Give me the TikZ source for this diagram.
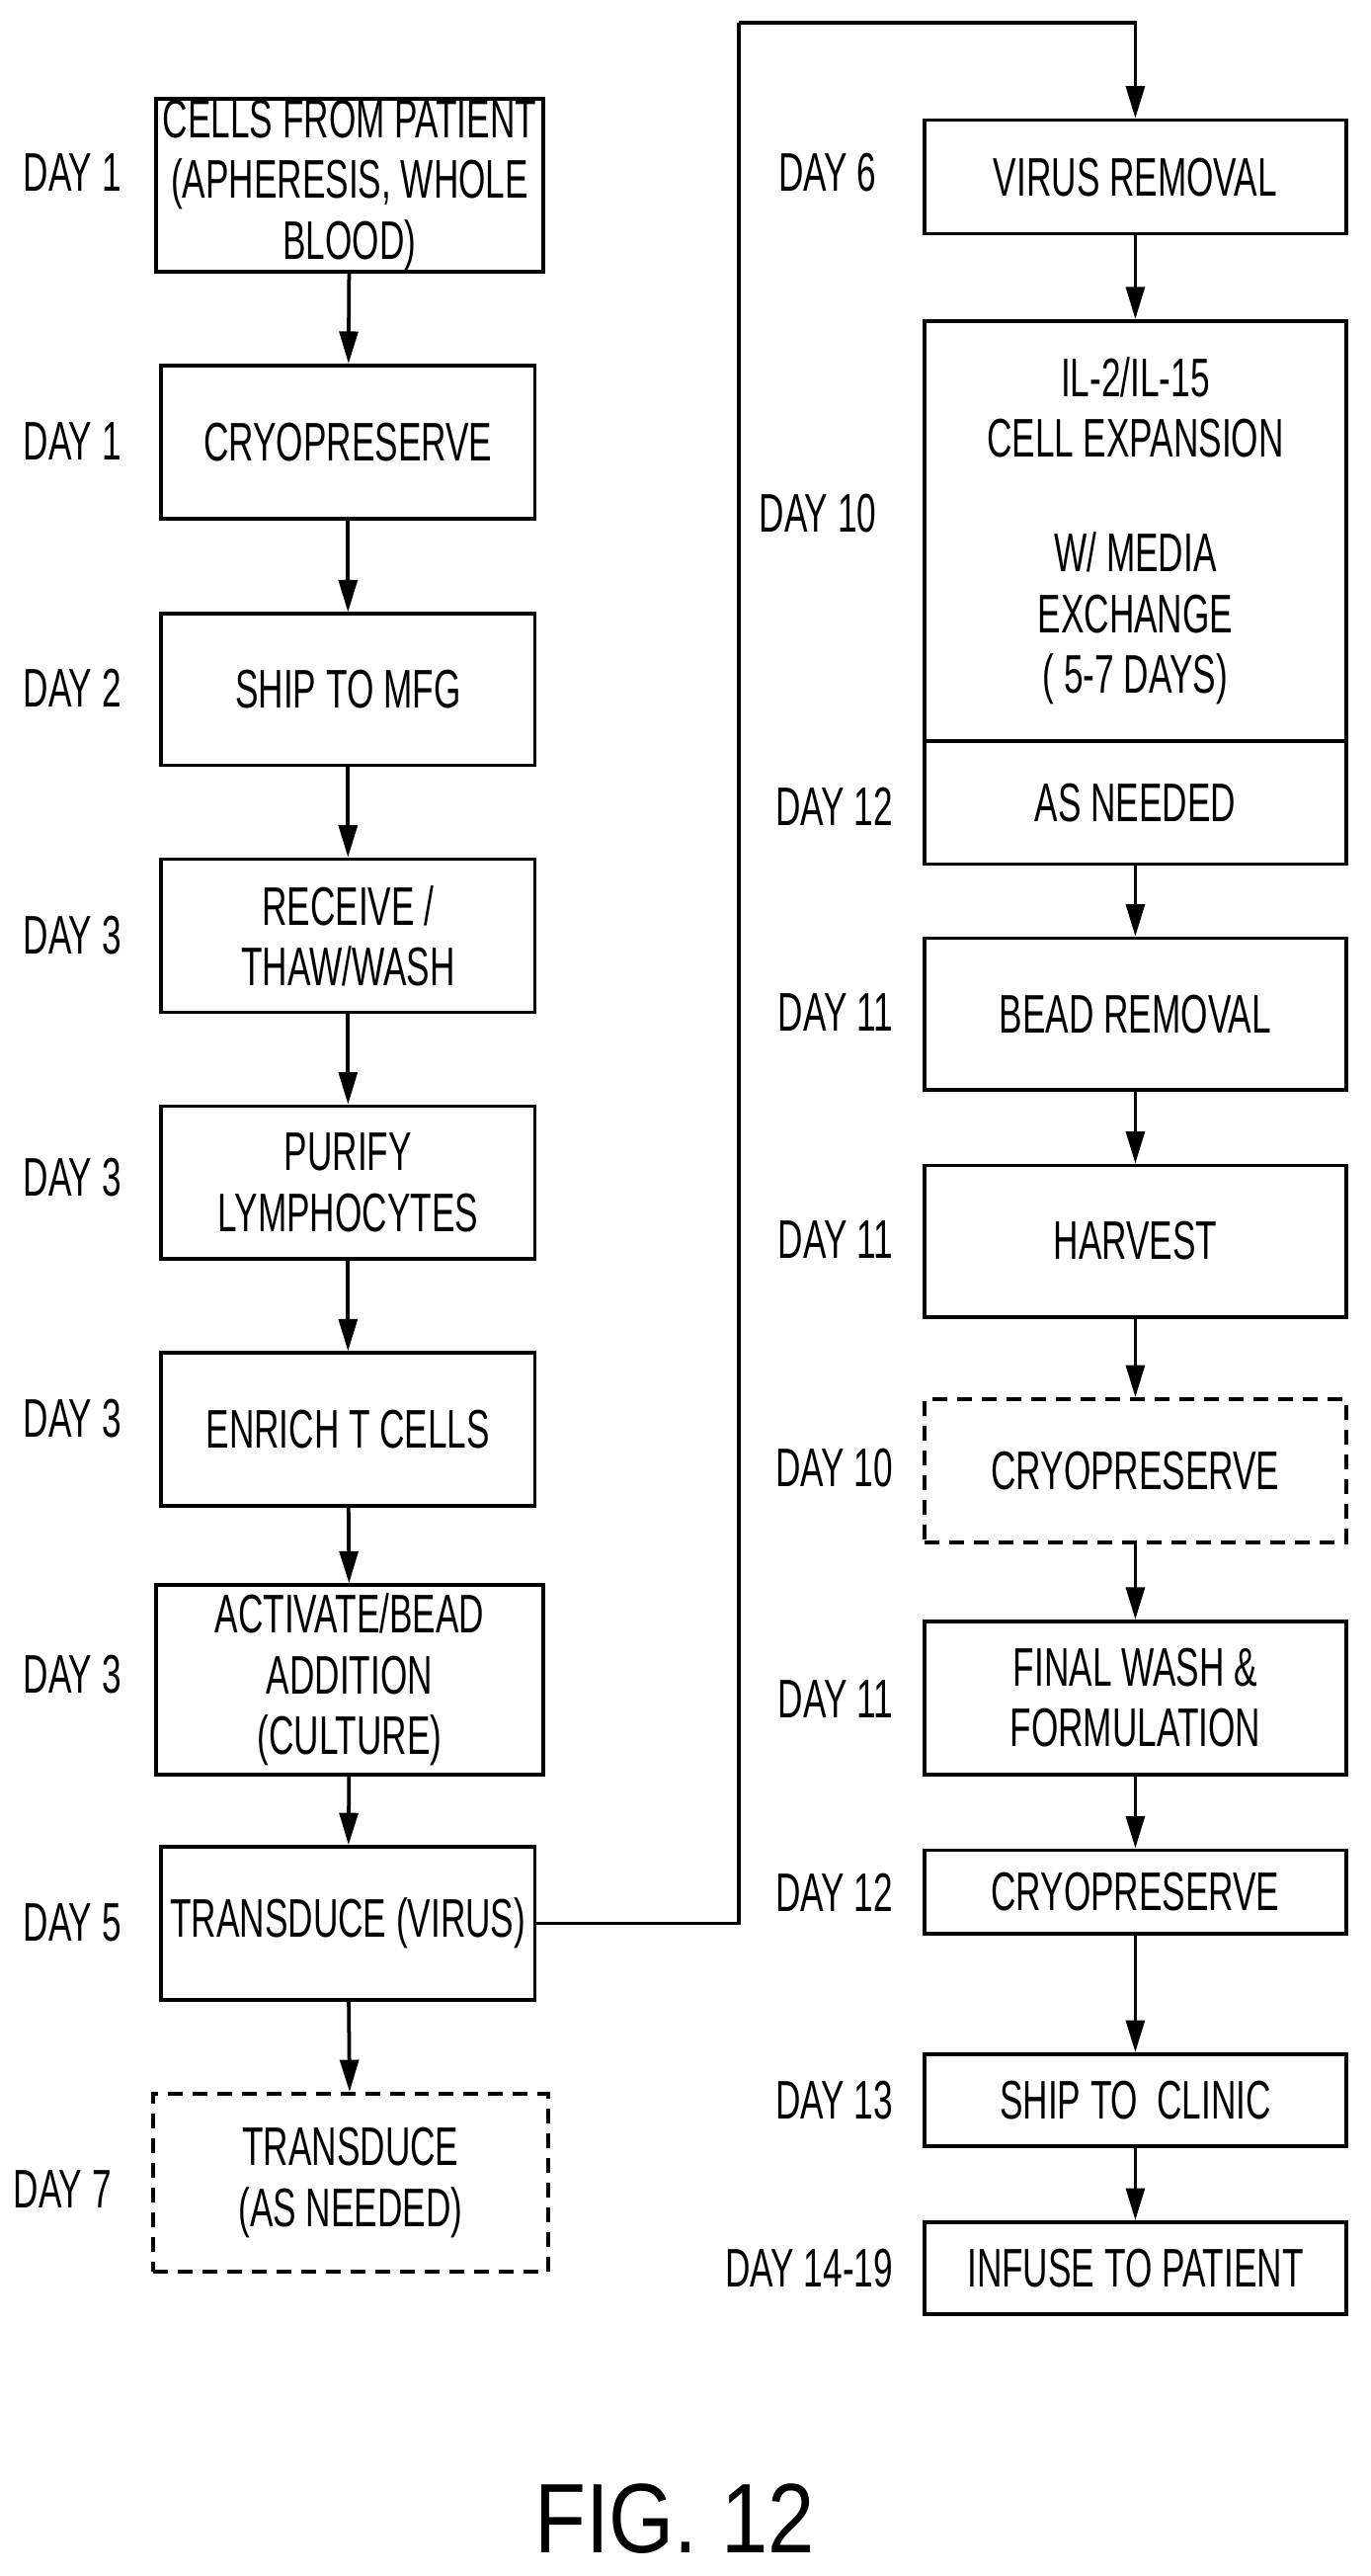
\documentclass[tikz,border=0pt]{standalone}
\usepackage{fontspec}
\setmainfont{Liberation Sans}[FakeStretch=0.64]
\usetikzlibrary{fit,arrows.meta}
\begin{document}
\begin{tikzpicture}[x=0.6664pt,y=-0.6664pt,
  box/.style={draw,line width=1.5pt,inner sep=0pt},
  dbox/.style={box,dash pattern=on 6pt off 4pt},
  txt/.style={align=center,inner sep=0pt,font=\fontsize{22}{24.5}\selectfont},
  day/.style={anchor=east,inner sep=0pt,font=\fontsize{22}{24.5}\selectfont},
  arr/.style={line width=1.5pt,-{Triangle[length=13pt,width=7.5pt]}},
  ln/.style={line width=1.5pt}]
\useasboundingbox (0,0) rectangle (833,1565);
% left column
\node[box,fit={(95,60)(330,165)}] (a1) {};
\node[box,fit={(98,222)(325,315)}] (a2) {};
\node[box,fit={(98,373)(325,465)}] (a3) {};
\node[box,fit={(98,522)(325,615)}] (a4) {};
\node[box,fit={(98,672)(325,765)}] (a5) {};
\node[box,fit={(98,822)(325,915)}] (a6) {};
\node[box,fit={(95,963)(330,1078)}] (a7) {};
\node[box,fit={(98,1122)(325,1215)}] (a8) {};
\node[dbox,fit={(93,1272)(333,1380)}] (a9) {};
\node[txt] (t1) at (a1) {CELLS FROM PATIENT\\(APHERESIS, WHOLE\\BLOOD)};
\node[txt] (t2) at (a2) {CRYOPRESERVE};
\node[txt] (t3) at (a3) {SHIP TO MFG};
\node[txt] (t4) at (a4) {RECEIVE /\\THAW/WASH};
\node[txt] (t5) at (a5) {PURIFY\\LYMPHOCYTES};
\node[txt] (t6) at (a6) {ENRICH T CELLS};
\node[txt] (t7) at (a7) {ACTIVATE/BEAD\\ADDITION\\(CULTURE)};
\node[txt] (t8) at (a8) {TRANSDUCE (VIRUS)};
\node[txt] (t9) at (a9) {TRANSDUCE\\(AS NEEDED)};
\node[day] (d1) at (74,105) {DAY 1};
\node[day] (d2) at (74,268) {DAY 1};
\node[day] (d3) at (74,418) {DAY 2};
\node[day] (d4) at (74,568) {DAY 3};
\node[day] (d5) at (74,715) {DAY 3};
\node[day] (d6) at (74,862) {DAY 3};
\node[day] (d7) at (74,1017) {DAY 3};
\node[day] (d8) at (74,1168) {DAY 5};
\node[day] (d9) at (68,1330) {DAY 7};
\foreach \p/\q in {a1/a2,a2/a3,a3/a4,a4/a5,a5/a6,a6/a7,a7/a8,a8/a9}
  \draw[arr] (\p) -- (\q);
% right column
\node[box,fit={(562,73)(818,142)}] (b1) {};
\node[box,fit={(562,195)(818,450)}] (b2) {};
\node[box,fit={(562,450)(818,525)}] (b3) {};
\node[box,fit={(562,570)(818,662)}] (b4) {};
\node[box,fit={(562,708)(818,800)}] (b5) {};
\node[dbox,fit={(562,850)(818,937)}] (b6) {};
\node[box,fit={(562,985)(818,1078)}] (b7) {};
\node[box,fit={(562,1124)(818,1175)}] (b8) {};
\node[box,fit={(562,1248)(818,1304)}] (b9) {};
\node[box,fit={(562,1350)(818,1406)}] (b10) {};
\node[txt] (s1) at (b1) {VIRUS REMOVAL};
\node[txt] (s2) at (b2) {IL-2/IL-15\\CELL EXPANSION\\[22pt]W/ MEDIA\\EXCHANGE\\( 5-7 DAYS)};
\node[txt] (s3) at (b3) {AS NEEDED};
\node[txt] (s4) at (b4) {BEAD REMOVAL};
\node[txt] (s5) at (b5) {HARVEST};
\node[txt] (s6) at (b6) {CRYOPRESERVE};
\node[txt] (s7) at (b7) {FINAL WASH \&\\FORMULATION};
\node[txt] (s8) at (b8) {CRYOPRESERVE};
\node[txt] (s9) at (b9) {SHIP TO\, CLINIC};
\node[txt] (s10) at (b10) {INFUSE TO PATIENT};
\node[day] (e1) at (533,105) {DAY 6};
\node[day] (e2) at (533,312) {DAY 10};
\node[day] (e3) at (543,490) {DAY 12};
\node[day] (e4) at (543,615) {DAY 11};
\node[day] (e5) at (543,753) {DAY 11};
\node[day] (e6) at (543,892) {DAY 10};
\node[day] (e7) at (543,1032) {DAY 11};
\node[day] (e8) at (543,1150) {DAY 12};
\node[day] (e9) at (543,1276) {DAY 13};
\node[day] (e10) at (543,1378) {DAY 14-19};
\foreach \p/\q in {b1/b2,b3/b4,b4/b5,b5/b6,b6/b7,b7/b8,b8/b9,b9/b10}
  \draw[arr] (\p) -- (\q);
\coordinate (c1) at (449,14);
\draw[ln] (a8.east) -| (c1);
\draw[arr] (c1) -| (b1.north);
\node[font=\fontsize{40}{44}\selectfont\addfontfeature{FakeStretch=0.85}] (fig) at (410,1530) {FIG. 12};
\end{tikzpicture}
\end{document}
